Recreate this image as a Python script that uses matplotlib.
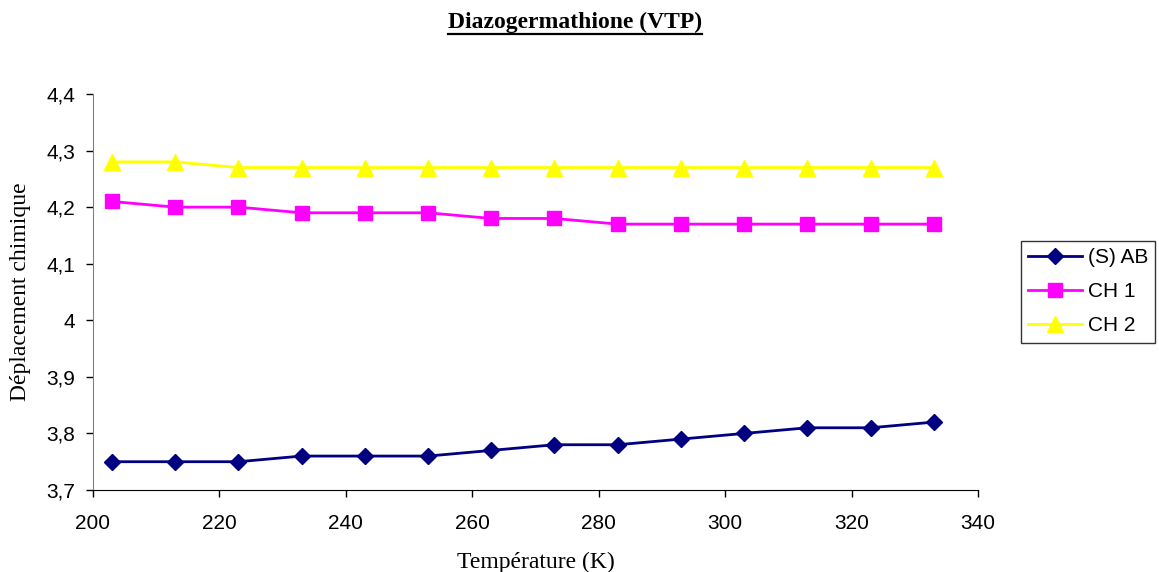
import numpy as np
import matplotlib
matplotlib.use("Agg")
import matplotlib.pyplot as plt
from matplotlib.ticker import FuncFormatter

# Data
temperature = [203, 213, 223, 233, 243, 253, 263, 273, 283, 293, 303, 313, 323, 333]
s_ab = [3.75, 3.75, 3.75, 3.76, 3.76, 3.76, 3.77, 3.78, 3.78, 3.79, 3.80, 3.81, 3.81, 3.82]
ch1 = [4.21, 4.20, 4.20, 4.19, 4.19, 4.19, 4.18, 4.18, 4.17, 4.17, 4.17, 4.17, 4.17, 4.17]
ch2 = [4.28, 4.28, 4.27, 4.27, 4.27, 4.27, 4.27, 4.27, 4.27, 4.27, 4.27, 4.27, 4.27, 4.27]

W, H = 1159, 572
fig = plt.figure(figsize=(W / 100, H / 100), dpi=100)
ax = fig.add_axes([93 / W, 1 - 490 / H, (978 - 93) / W, (490 - 94) / H])

ax.plot(temperature, s_ab, color="#000080", marker="D", markersize=8, lw=2, label="(S) AB")
ax.plot(temperature, ch1, color="#FF00FF", marker="s", markersize=10.5, lw=2, label="CH 1")
ax.plot(temperature, ch2, color="#FFFF00", marker="^", markersize=11, lw=2, label="CH 2")

ax.set_xlim(200, 340)
ax.set_ylim(3.7, 4.4)
ax.set_xticks(np.arange(200, 341, 20))
ax.set_yticks(np.arange(3.7, 4.41, 0.1))
ax.yaxis.set_major_formatter(FuncFormatter(lambda v, p: f"{v:.1f}".replace(".", ",") if abs(v - 4) > 1e-6 else "4"))
ax.tick_params(direction="out", length=5, labelsize=15, width=1)
ax.tick_params(axis="x", pad=12)
ax.tick_params(axis="y", pad=8)
for lbl in ax.get_xticklabels() + ax.get_yticklabels():
    lbl.set_fontfamily("Liberation Sans")

ax.spines["top"].set_visible(False)
ax.spines["right"].set_visible(False)
ax.spines["left"].set_color("#808080")
ax.spines["bottom"].set_color("black")

ax.set_xlabel("Température (K)", fontfamily="Liberation Serif", fontsize=17)
ax.xaxis.label.set_va("center")
ax.xaxis.set_label_coords(0.5, -(562 - 490) / 396)
ax.set_ylabel("Déplacement chimique", fontfamily="Liberation Serif", fontsize=17)
ax.yaxis.label.set_va("center")
ax.yaxis.set_label_coords(-(93 - 21) / 885, 0.5)

title = fig.text(575 / W, 1 - 22 / H, "Diazogermathione (VTP)", ha="center", va="center",
                 fontfamily="Liberation Serif", fontsize=17, fontweight="bold")
# underline under the title
fig.canvas.draw()
bb = title.get_window_extent().transformed(fig.transFigure.inverted())
fig.add_artist(plt.Line2D([bb.x0, bb.x1], [1 - 34 / H, 1 - 34 / H], color="black", lw=1.6))

leg = fig.legend(loc="upper left", bbox_to_anchor=(1021 / W, 1 - 241 / H),
                 prop={"family": "Liberation Sans", "size": 15}, frameon=True,
                 fancybox=False, edgecolor="black", handlelength=2.6,
                 handletextpad=0.25, borderpad=0.35, labelspacing=0.72, borderaxespad=0)
leg.get_frame().set_linewidth(1)

fig.savefig("out.png", dpi=100)
